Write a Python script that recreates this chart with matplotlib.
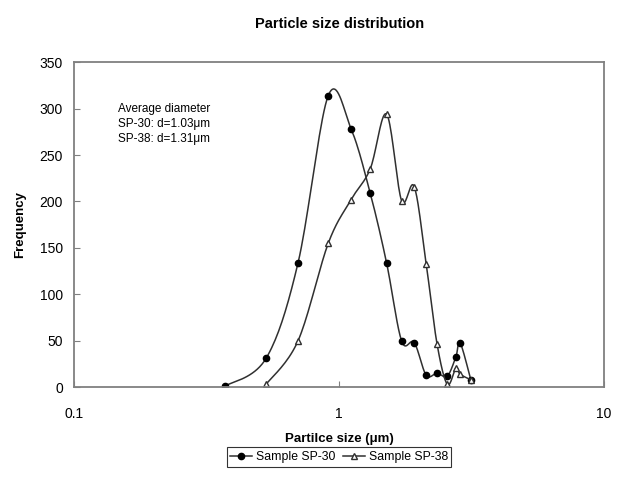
import numpy as np
import matplotlib
matplotlib.use("Agg")
import matplotlib.pyplot as plt
from matplotlib.ticker import FixedLocator, FixedFormatter, NullLocator

plt.rcParams['font.family'] = ['Liberation Sans', 'DejaVu Sans']

# particle size (um) and frequency
size_sp30 = [0.37, 0.53, 0.70, 0.91, 1.11, 1.31, 1.51, 1.72, 1.92, 2.13, 2.34, 2.56, 2.76, 2.86, 3.14]
freq_sp30 = [1, 31, 134, 314, 278, 209, 134, 50, 48, 13, 15, 12, 33, 48, 8]

size_sp38 = [0.53, 0.70, 0.91, 1.11, 1.31, 1.51, 1.72, 1.92, 2.13, 2.34, 2.56, 2.76, 2.86, 3.14]
freq_sp38 = [3, 50, 155, 202, 235, 294, 201, 216, 133, 47, 3, 21, 14, 8]

x_ticks = [0.1, 1, 10]
x_labels = ['0.1', '1', '10']


def smooth(xs, ys, n=20):
    # excel-like smoothed line: catmull-rom bezier in log-x space
    lx = np.log10(xs)
    ys = np.asarray(ys, dtype=float)
    px = np.concatenate([[lx[0]], lx, [lx[-1]]])
    py = np.concatenate([[ys[0]], ys, [ys[-1]]])
    outx, outy = [], []
    t = np.linspace(0, 1, n)
    for i in range(1, len(px) - 2):
        p0 = np.array([px[i], py[i]])
        p3 = np.array([px[i + 1], py[i + 1]])
        c1 = p0 + (np.array([px[i + 1], py[i + 1]]) - np.array([px[i - 1], py[i - 1]])) / 6
        c2 = p3 - (np.array([px[i + 2], py[i + 2]]) - np.array([px[i], py[i]])) / 6
        for tt in t:
            b = ((1 - tt) ** 3) * p0 + 3 * ((1 - tt) ** 2) * tt * c1 + 3 * (1 - tt) * tt ** 2 * c2 + tt ** 3 * p3
            outx.append(b[0])
            outy.append(b[1])
    return 10 ** np.array(outx), np.array(outy)


fig = plt.figure(figsize=(6.28, 4.78), dpi=100)
ax = fig.add_axes([0.118, 0.19, 0.844, 0.68])

line_col = '#303030'
sx, sy = smooth(size_sp30, freq_sp30)
ax.plot(sx, sy, color=line_col, lw=1.1)
ax.plot(size_sp30, freq_sp30, 'o', color='black', ms=4.5, ls='none')
tx, ty = smooth(size_sp38, freq_sp38)
ax.plot(tx, ty, color=line_col, lw=1.1)
ax.plot(size_sp38, freq_sp38, '^', mfc='white', mec=line_col, ms=4.5, ls='none')

# legend proxies
h1, = ax.plot([], [], '-o', color=line_col, mfc='black', mec='black', ms=4.5, lw=1.1,
              label='Sample SP-30')
h2, = ax.plot([], [], '-^', color=line_col, mfc='white', mec=line_col, ms=4.5, lw=1.1,
              label='Sample SP-38')

ax.set_xscale('log')
ax.set_xlim(0.1, 10)
ax.set_ylim(0, 350)
ax.xaxis.set_major_locator(FixedLocator(x_ticks))
ax.xaxis.set_major_formatter(FixedFormatter(x_labels))
ax.xaxis.set_minor_locator(NullLocator())
ax.set_yticks(range(0, 351, 50))
ax.tick_params(direction='in', length=4, labelsize=10, color='#808080', pad=8)
ax.tick_params(axis='x', pad=14)
for s in ax.spines.values():
    s.set_color('#808080')
    s.set_linewidth(1.3)

ax.set_xlabel('Partilce size (\u03bcm)', fontsize=9.5, fontweight='bold', labelpad=9)
ax.set_ylabel('Frequency', fontsize=9.5, fontweight='bold', labelpad=10)
fig.suptitle('Particle size distribution', x=0.54, y=0.965, fontsize=10.5, fontweight='bold')

ax.text(0.083, 0.875, 'Average diameter\nSP-30: d=1.03\u03bcm\nSP-38: d=1.31\u03bcm',
        transform=ax.transAxes, ha='left', va='top', fontsize=8.5, linespacing=1.35)

leg = fig.legend(handles=[h1, h2], loc='center', bbox_to_anchor=(0.54, 0.044), ncol=2,
                 fontsize=8.8, frameon=True, fancybox=False, edgecolor='black',
                 handlelength=1.8, handletextpad=0.3, columnspacing=0.6, borderpad=0.3)
leg.get_frame().set_linewidth(0.8)

fig.savefig('out.png', dpi=100)
